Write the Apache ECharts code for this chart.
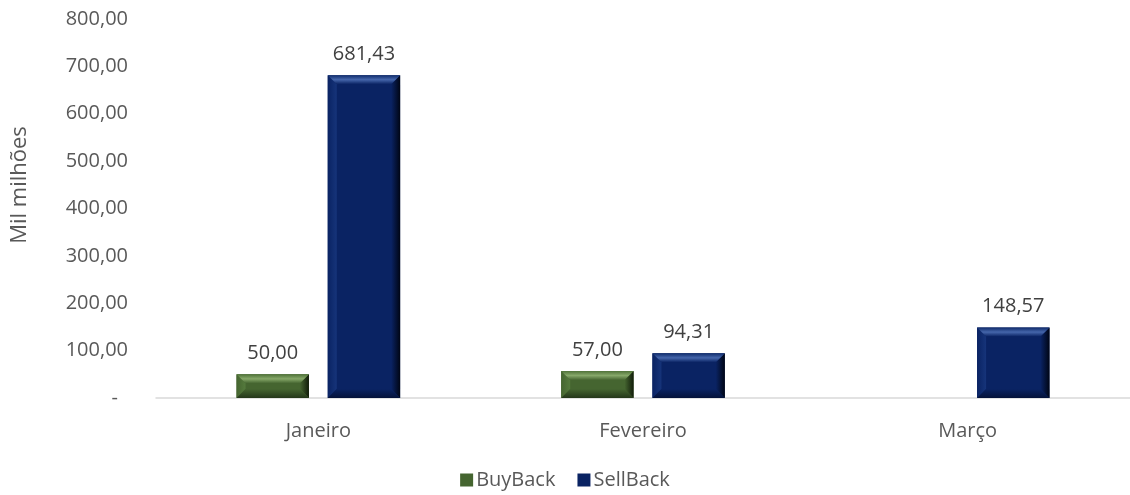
<!DOCTYPE html>
<html>
<head>
<meta charset="utf-8">
<script src="https://cdn.jsdelivr.net/npm/echarts@6/dist/echarts.min.js"></script>
<style>
html,body{margin:0;padding:0;background:#fff;}
#c{width:1130px;height:495px;}
</style>
</head>
<body>
<div id="c"></div>
<script>
const categories = ['Janeiro', 'Fevereiro', 'Março'];
const buyBack = [50.00, 57.00, null];
const sellBack = [681.43, 94.31, 148.57];
const yTicks = [0, 100, 200, 300, 400, 500, 600, 700, 800];

const FONT = '"Open Sans", "Noto Sans", sans-serif';
const TXT = '#595959';

function fmt(v) {
  return v.toFixed(2).replace('.', ',');
}

const palettes = {
  BuyBack: { face: '#456530', topEdge: '#4f7238', topHi: '#86a869', left: '#557a3d', right: '#111c0a', bottom: '#24371a' },
  SellBack: { face: '#0a2363', topEdge: '#102c6c', topHi: '#4566ab', left: '#16347a', right: '#000514', bottom: '#041239' }
};

function makeRender(seriesIndex, pal) {
  return function (params, api) {
    const val = api.value(1);
    if (val == null || isNaN(val)) return null;
    const cat = api.value(0);
    const topPt = api.coord([cat, val]);
    const basePt = api.coord([cat, 0]);
    const band = api.size([1, 0])[0];
    const barW = band * 0.223;
    const gap = barW * 0.26;
    const cx = topPt[0] + (seriesIndex === 0 ? -(gap / 2 + barW / 2) : (gap / 2 + barW / 2));
    const x0 = cx - barW / 2, x1 = cx + barW / 2;
    const y0 = topPt[1], y1 = basePt[1];
    const h = y1 - y0;
    const d = Math.min(9, h / 2.6);
    const ix0 = x0 + d, ix1 = x1 - d, iy0 = y0 + d, iy1 = y1 - d;
    const G = echarts.graphic.LinearGradient;
    const poly = (pts, fill) => ({ type: 'polygon', shape: { points: pts }, style: { fill: fill }, silent: true });
    return {
      type: 'group',
      children: [
        { type: 'rect', shape: { x: x0, y: y0, width: barW, height: h }, style: { fill: pal.face } },
        poly([[x0, y0], [ix0, iy0], [ix0, iy1], [x0, y1]], new G(0, 0, 1, 0, [{ offset: 0, color: pal.face }, { offset: 1, color: pal.left }])),
        poly([[x1, y0], [x1, y1], [ix1, iy1], [ix1, iy0]], new G(0, 0, 1, 0, [{ offset: 0, color: pal.face }, { offset: 1, color: pal.right }])),
        poly([[x0, y1], [ix0, iy1], [ix1, iy1], [x1, y1]], new G(0, 0, 0, 1, [{ offset: 0, color: pal.face }, { offset: 1, color: pal.bottom }])),
        poly([[x0, y0], [x1, y0], [ix1, iy0], [ix0, iy0]], new G(0, 0, 0, 1, [{ offset: 0, color: pal.topEdge }, { offset: 0.5, color: pal.topHi }, { offset: 1, color: pal.face }])),
        {
          type: 'text',
          style: {
            text: fmt(val), x: cx, y: y0 - 11, align: 'center', verticalAlign: 'bottom',
            fill: '#404040', font: '20px ' + FONT
          },
          silent: true
        }
      ]
    };
  };
}

const chart = echarts.init(document.getElementById('c'), null, { renderer: 'canvas' });
chart.setOption({
  animation: false,
  backgroundColor: '#ffffff',
  grid: { left: 156, right: -9, top: 19, bottom: 97, containLabel: false },
  legend: {
    data: [
      { name: 'BuyBack', icon: 'rect', itemStyle: { color: palettes.BuyBack.face } },
      { name: 'SellBack', icon: 'rect', itemStyle: { color: palettes.SellBack.face } }
    ],
    bottom: 0, left: 'center', itemWidth: 13, itemHeight: 13, itemGap: 22,
    textStyle: { fontFamily: FONT, fontSize: 20, color: TXT, padding: [0, 0, 0, -2] }
  },
  graphic: [{
    type: 'text', x: 20, y: 185, rotation: Math.PI / 2,
    style: { text: 'Mil milhões', font: '22px ' + FONT, fill: TXT, align: 'center', verticalAlign: 'middle' }
  }],
  xAxis: {
    type: 'category', data: categories,
    axisLine: { lineStyle: { color: '#d9d9d9', width: 1.5 } },
    axisTick: { show: false },
    axisLabel: { fontFamily: FONT, fontSize: 20, color: TXT, margin: 23 }
  },
  yAxis: {
    type: 'value', min: yTicks[0], max: yTicks[yTicks.length - 1], interval: 100,
    splitLine: { show: false }, axisLine: { show: false }, axisTick: { show: false },
    axisLabel: {
      margin: 28, fontFamily: FONT, fontSize: 20, color: TXT,
      formatter: v => v === 0 ? '{z|-}' : fmt(v),
      rich: { z: { fontFamily: FONT, fontSize: 20, color: TXT, padding: [0, 10, 0, 0] } }
    }
  },
  series: [
    { name: 'BuyBack', type: 'custom', renderItem: makeRender(0, palettes.BuyBack), data: buyBack.map((v, i) => [i, v]), encode: { x: 0, y: 1 }, itemStyle: { color: palettes.BuyBack.face } },
    { name: 'SellBack', type: 'custom', renderItem: makeRender(1, palettes.SellBack), data: sellBack.map((v, i) => [i, v]), encode: { x: 0, y: 1 }, itemStyle: { color: palettes.SellBack.face } }
  ]
});
</script>
</body>
</html>
